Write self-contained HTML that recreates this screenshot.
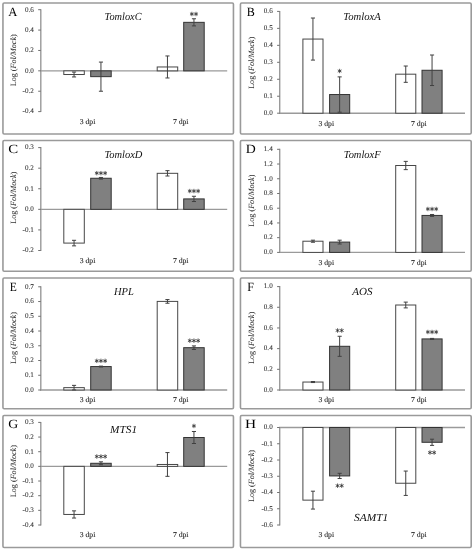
<!DOCTYPE html>
<html><head><meta charset="utf-8"><title>Figure</title>
<style>
html,body{margin:0;padding:0;background:#fff;}
body{width:474px;height:550px;overflow:hidden;}
svg{display:block;font-family:"Liberation Serif", serif;will-change:transform;text-rendering:geometricPrecision;filter:blur(0.25px);}
</style></head>
<body>
<svg width="474" height="550" viewBox="0 0 474 550">
<rect width="474" height="550" fill="#fff"/>
<rect x="2.95" y="2.95" width="230.5" height="131" rx="1.2" fill="none" stroke="#9a9a9a" stroke-width="1.6"/>
<text transform="translate(12.9 16) scale(1.0 1)" font-size="12.6" fill="#000" text-anchor="middle">A</text>
<line x1="40.8" y1="9.2" x2="40.8" y2="112.1" stroke="#9a9a9a" stroke-width="1.4"/>
<line x1="40.1" y1="70.84" x2="227.2" y2="70.84" stroke="#9a9a9a" stroke-width="1.4"/>
<rect x="63.8" y="70.84" width="20.5" height="3.67" fill="#ffffff" stroke="#474747" stroke-width="1.0"/>
<rect x="90.7" y="70.84" width="20.5" height="5.81" fill="#808080" stroke="#333333" stroke-width="1.0"/>
<rect x="157.2" y="66.97" width="20.5" height="3.87" fill="#ffffff" stroke="#474747" stroke-width="1.0"/>
<rect x="183.7" y="22.34" width="20.5" height="48.5" fill="#808080" stroke="#333333" stroke-width="1.0"/>
<line x1="38.2" y1="9.7" x2="40.8" y2="9.7" stroke="#707070" stroke-width="1"/>
<text x="33.8" y="11.5" font-size="7.1" fill="#333333" stroke="#333333" stroke-width="0.08" text-anchor="end">0.6</text>
<line x1="38.2" y1="30.08" x2="40.8" y2="30.08" stroke="#707070" stroke-width="1"/>
<text x="33.8" y="31.88" font-size="7.1" fill="#333333" stroke="#333333" stroke-width="0.08" text-anchor="end">0.4</text>
<line x1="38.2" y1="50.46" x2="40.8" y2="50.46" stroke="#707070" stroke-width="1"/>
<text x="33.8" y="52.26" font-size="7.1" fill="#333333" stroke="#333333" stroke-width="0.08" text-anchor="end">0.2</text>
<line x1="38.2" y1="70.84" x2="40.8" y2="70.84" stroke="#707070" stroke-width="1"/>
<text x="33.8" y="72.64" font-size="7.1" fill="#333333" stroke="#333333" stroke-width="0.08" text-anchor="end">0.0</text>
<line x1="38.2" y1="91.22" x2="40.8" y2="91.22" stroke="#707070" stroke-width="1"/>
<text x="33.8" y="93.02" font-size="7.1" fill="#333333" stroke="#333333" stroke-width="0.08" text-anchor="end">-0.2</text>
<line x1="38.2" y1="111.6" x2="40.8" y2="111.6" stroke="#707070" stroke-width="1"/>
<text x="33.8" y="113.4" font-size="7.1" fill="#333333" stroke="#333333" stroke-width="0.08" text-anchor="end">-0.4</text>
<path d="M74.05 72.06V76.95M72 72.06h4.1M72 76.95h4.1" stroke="#404040" stroke-width="1.0" fill="none"/>
<path d="M100.95 62.08V91.22M98.9 62.08h4.1M98.9 91.22h4.1" stroke="#404040" stroke-width="1.0" fill="none"/>
<path d="M167.45 55.96V77.97M165.4 55.96h4.1M165.4 77.97h4.1" stroke="#404040" stroke-width="1.0" fill="none"/>
<path d="M193.95 18.77V25.9M191.9 18.77h4.1M191.9 25.9h4.1" stroke="#404040" stroke-width="1.0" fill="none"/>
<path d="M191.88 12.20L191.88 15.80M190.32 13.10L193.43 14.90M190.32 14.90L193.43 13.10" stroke="#2e2e2e" stroke-width="0.8" stroke-linecap="round" fill="none"/>
<path d="M196.02 12.20L196.02 15.80M194.47 13.10L197.58 14.90M194.47 14.90L197.58 13.10" stroke="#2e2e2e" stroke-width="0.8" stroke-linecap="round" fill="none"/>
<text x="87.5" y="123.9" font-size="7.5" fill="#333333" stroke="#1a1a1a" stroke-width="0.12" text-anchor="middle" textLength="15.6" lengthAdjust="spacingAndGlyphs">3 dpi</text>
<text x="180.7" y="123.9" font-size="7.5" fill="#333333" stroke="#1a1a1a" stroke-width="0.12" text-anchor="middle" textLength="15.6" lengthAdjust="spacingAndGlyphs">7 dpi</text>
<text transform="translate(15.6 60.25) rotate(-90)" font-size="8" fill="#333333" stroke="#1a1a1a" stroke-width="0.04" text-anchor="middle" textLength="52" lengthAdjust="spacingAndGlyphs">Log (<tspan font-style="italic">Fol/Mock</tspan>)</text>
<text x="123.1" y="20.3" font-size="10.8" font-style="italic" fill="#111" text-anchor="middle" textLength="37.03" lengthAdjust="spacingAndGlyphs">TomloxC</text>
<rect x="240.45" y="2.95" width="230.75" height="131" rx="1.2" fill="none" stroke="#9a9a9a" stroke-width="1.6"/>
<text transform="translate(250.75 16) scale(0.96 1)" font-size="12.6" fill="#000" text-anchor="middle">B</text>
<line x1="279.7" y1="10.9" x2="279.7" y2="113.7" stroke="#9a9a9a" stroke-width="1.4"/>
<line x1="279" y1="113.2" x2="465" y2="113.2" stroke="#9a9a9a" stroke-width="1.4"/>
<rect x="302.9" y="39.06" width="20.1" height="74.14" fill="#ffffff" stroke="#474747" stroke-width="1.0"/>
<rect x="329.6" y="94.54" width="20.1" height="18.66" fill="#808080" stroke="#333333" stroke-width="1.0"/>
<rect x="395.7" y="74.18" width="20.1" height="39.02" fill="#ffffff" stroke="#474747" stroke-width="1.0"/>
<rect x="422" y="70.27" width="20.1" height="42.93" fill="#808080" stroke="#333333" stroke-width="1.0"/>
<line x1="277.1" y1="11.4" x2="279.7" y2="11.4" stroke="#707070" stroke-width="1"/>
<text x="272.7" y="13.2" font-size="7.1" fill="#333333" stroke="#333333" stroke-width="0.08" text-anchor="end">0.6</text>
<line x1="277.1" y1="28.37" x2="279.7" y2="28.37" stroke="#707070" stroke-width="1"/>
<text x="272.7" y="30.17" font-size="7.1" fill="#333333" stroke="#333333" stroke-width="0.08" text-anchor="end">0.5</text>
<line x1="277.1" y1="45.33" x2="279.7" y2="45.33" stroke="#707070" stroke-width="1"/>
<text x="272.7" y="47.13" font-size="7.1" fill="#333333" stroke="#333333" stroke-width="0.08" text-anchor="end">0.4</text>
<line x1="277.1" y1="62.3" x2="279.7" y2="62.3" stroke="#707070" stroke-width="1"/>
<text x="272.7" y="64.1" font-size="7.1" fill="#333333" stroke="#333333" stroke-width="0.08" text-anchor="end">0.3</text>
<line x1="277.1" y1="79.27" x2="279.7" y2="79.27" stroke="#707070" stroke-width="1"/>
<text x="272.7" y="81.07" font-size="7.1" fill="#333333" stroke="#333333" stroke-width="0.08" text-anchor="end">0.2</text>
<line x1="277.1" y1="96.23" x2="279.7" y2="96.23" stroke="#707070" stroke-width="1"/>
<text x="272.7" y="98.03" font-size="7.1" fill="#333333" stroke="#333333" stroke-width="0.08" text-anchor="end">0.1</text>
<line x1="277.1" y1="113.2" x2="279.7" y2="113.2" stroke="#707070" stroke-width="1"/>
<text x="272.7" y="115" font-size="7.1" fill="#333333" stroke="#333333" stroke-width="0.08" text-anchor="end">0.0</text>
<path d="M312.95 18.02V60.09M310.9 18.02h4.1M310.9 60.09h4.1" stroke="#404040" stroke-width="1.0" fill="none"/>
<path d="M339.65 76.89V112.18M337.6 76.89h4.1M337.6 112.18h4.1" stroke="#404040" stroke-width="1.0" fill="none"/>
<path d="M405.75 66.03V82.32M403.7 66.03h4.1M403.7 82.32h4.1" stroke="#404040" stroke-width="1.0" fill="none"/>
<path d="M432.05 55V85.54M430 55h4.1M430 85.54h4.1" stroke="#404040" stroke-width="1.0" fill="none"/>
<path d="M339.65 69.20L339.65 72.80M338.09 70.10L341.21 71.90M338.09 71.90L341.21 70.10" stroke="#2e2e2e" stroke-width="0.8" stroke-linecap="round" fill="none"/>
<text x="326.3" y="125.5" font-size="7.5" fill="#333333" stroke="#1a1a1a" stroke-width="0.12" text-anchor="middle" textLength="15.6" lengthAdjust="spacingAndGlyphs">3 dpi</text>
<text x="418.9" y="125.5" font-size="7.5" fill="#333333" stroke="#1a1a1a" stroke-width="0.12" text-anchor="middle" textLength="15.6" lengthAdjust="spacingAndGlyphs">7 dpi</text>
<text transform="translate(254 62.85) rotate(-90)" font-size="8" fill="#333333" stroke="#1a1a1a" stroke-width="0.04" text-anchor="middle" textLength="52" lengthAdjust="spacingAndGlyphs">Log (<tspan font-style="italic">Fol/Mock</tspan>)</text>
<text x="362.1" y="20.3" font-size="10.8" font-style="italic" fill="#111" text-anchor="middle" textLength="37.5" lengthAdjust="spacingAndGlyphs">TomloxA</text>
<rect x="2.95" y="140.45" width="230.5" height="130.75" rx="1.2" fill="none" stroke="#9a9a9a" stroke-width="1.6"/>
<text transform="translate(13.3 153.2) scale(1.18 1)" font-size="12.6" fill="#000" text-anchor="middle">C</text>
<line x1="40.8" y1="147.1" x2="40.8" y2="251" stroke="#9a9a9a" stroke-width="1.4"/>
<line x1="40.1" y1="209.34" x2="227.2" y2="209.34" stroke="#9a9a9a" stroke-width="1.4"/>
<rect x="63.8" y="209.34" width="20.5" height="33.75" fill="#ffffff" stroke="#474747" stroke-width="1.0"/>
<rect x="90.7" y="178.26" width="20.5" height="31.08" fill="#808080" stroke="#333333" stroke-width="1.0"/>
<rect x="157.2" y="173.32" width="20.5" height="36.02" fill="#ffffff" stroke="#474747" stroke-width="1.0"/>
<rect x="183.7" y="198.91" width="20.5" height="10.43" fill="#808080" stroke="#333333" stroke-width="1.0"/>
<line x1="38.2" y1="147.6" x2="40.8" y2="147.6" stroke="#707070" stroke-width="1"/>
<text x="33.8" y="149.4" font-size="7.1" fill="#333333" stroke="#333333" stroke-width="0.08" text-anchor="end">0.3</text>
<line x1="38.2" y1="168.18" x2="40.8" y2="168.18" stroke="#707070" stroke-width="1"/>
<text x="33.8" y="169.98" font-size="7.1" fill="#333333" stroke="#333333" stroke-width="0.08" text-anchor="end">0.2</text>
<line x1="38.2" y1="188.76" x2="40.8" y2="188.76" stroke="#707070" stroke-width="1"/>
<text x="33.8" y="190.56" font-size="7.1" fill="#333333" stroke="#333333" stroke-width="0.08" text-anchor="end">0.1</text>
<line x1="38.2" y1="209.34" x2="40.8" y2="209.34" stroke="#707070" stroke-width="1"/>
<text x="33.8" y="211.14" font-size="7.1" fill="#333333" stroke="#333333" stroke-width="0.08" text-anchor="end">0.0</text>
<line x1="38.2" y1="229.92" x2="40.8" y2="229.92" stroke="#707070" stroke-width="1"/>
<text x="33.8" y="231.72" font-size="7.1" fill="#333333" stroke="#333333" stroke-width="0.08" text-anchor="end">-0.1</text>
<line x1="38.2" y1="250.5" x2="40.8" y2="250.5" stroke="#707070" stroke-width="1"/>
<text x="33.8" y="252.3" font-size="7.1" fill="#333333" stroke="#333333" stroke-width="0.08" text-anchor="end">-0.2</text>
<path d="M74.05 240.31V245.87M72 240.31h4.1M72 245.87h4.1" stroke="#404040" stroke-width="1.0" fill="none"/>
<path d="M100.95 177.44V179.09M98.9 177.44h4.1M98.9 179.09h4.1" stroke="#404040" stroke-width="1.0" fill="none"/>
<path d="M167.45 170.65V176M165.4 170.65h4.1M165.4 176h4.1" stroke="#404040" stroke-width="1.0" fill="none"/>
<path d="M193.95 196.27V201.54M191.9 196.27h4.1M191.9 201.54h4.1" stroke="#404040" stroke-width="1.0" fill="none"/>
<path d="M96.80 171.35L96.80 174.95M95.24 172.25L98.36 174.05M95.24 174.05L98.36 172.25" stroke="#2e2e2e" stroke-width="0.8" stroke-linecap="round" fill="none"/>
<path d="M100.95 171.35L100.95 174.95M99.39 172.25L102.51 174.05M99.39 174.05L102.51 172.25" stroke="#2e2e2e" stroke-width="0.8" stroke-linecap="round" fill="none"/>
<path d="M105.10 171.35L105.10 174.95M103.54 172.25L106.66 174.05M103.54 174.05L106.66 172.25" stroke="#2e2e2e" stroke-width="0.8" stroke-linecap="round" fill="none"/>
<path d="M189.80 189.25L189.80 192.85M188.24 190.15L191.36 191.95M188.24 191.95L191.36 190.15" stroke="#2e2e2e" stroke-width="0.8" stroke-linecap="round" fill="none"/>
<path d="M193.95 189.25L193.95 192.85M192.39 190.15L195.51 191.95M192.39 191.95L195.51 190.15" stroke="#2e2e2e" stroke-width="0.8" stroke-linecap="round" fill="none"/>
<path d="M198.10 189.25L198.10 192.85M196.54 190.15L199.66 191.95M196.54 191.95L199.66 190.15" stroke="#2e2e2e" stroke-width="0.8" stroke-linecap="round" fill="none"/>
<text x="87.5" y="262.8" font-size="7.5" fill="#333333" stroke="#1a1a1a" stroke-width="0.12" text-anchor="middle" textLength="15.6" lengthAdjust="spacingAndGlyphs">3 dpi</text>
<text x="180.7" y="262.8" font-size="7.5" fill="#333333" stroke="#1a1a1a" stroke-width="0.12" text-anchor="middle" textLength="15.6" lengthAdjust="spacingAndGlyphs">7 dpi</text>
<text transform="translate(15.6 197.75) rotate(-90)" font-size="8" fill="#333333" stroke="#1a1a1a" stroke-width="0.04" text-anchor="middle" textLength="52" lengthAdjust="spacingAndGlyphs">Log (<tspan font-style="italic">Fol/Mock</tspan>)</text>
<text x="123.4" y="157.7" font-size="10.8" font-style="italic" fill="#111" text-anchor="middle" textLength="38.01" lengthAdjust="spacingAndGlyphs">TomloxD</text>
<rect x="240.45" y="140.45" width="230.75" height="130.75" rx="1.2" fill="none" stroke="#9a9a9a" stroke-width="1.6"/>
<text transform="translate(250.75 153.2) scale(1.1 1)" font-size="12.6" fill="#000" text-anchor="middle">D</text>
<line x1="279.7" y1="148.8" x2="279.7" y2="252.9" stroke="#9a9a9a" stroke-width="1.4"/>
<line x1="279" y1="252.4" x2="465" y2="252.4" stroke="#9a9a9a" stroke-width="1.4"/>
<rect x="302.9" y="241.21" width="20.1" height="11.19" fill="#ffffff" stroke="#474747" stroke-width="1.0"/>
<rect x="329.6" y="242.09" width="20.1" height="10.31" fill="#808080" stroke="#333333" stroke-width="1.0"/>
<rect x="395.7" y="165.5" width="20.1" height="86.9" fill="#ffffff" stroke="#474747" stroke-width="1.0"/>
<rect x="422" y="215.43" width="20.1" height="36.97" fill="#808080" stroke="#333333" stroke-width="1.0"/>
<line x1="277.1" y1="149.3" x2="279.7" y2="149.3" stroke="#707070" stroke-width="1"/>
<text x="272.7" y="151.1" font-size="7.1" fill="#333333" stroke="#333333" stroke-width="0.08" text-anchor="end">1.4</text>
<line x1="277.1" y1="164.03" x2="279.7" y2="164.03" stroke="#707070" stroke-width="1"/>
<text x="272.7" y="165.83" font-size="7.1" fill="#333333" stroke="#333333" stroke-width="0.08" text-anchor="end">1.2</text>
<line x1="277.1" y1="178.76" x2="279.7" y2="178.76" stroke="#707070" stroke-width="1"/>
<text x="272.7" y="180.56" font-size="7.1" fill="#333333" stroke="#333333" stroke-width="0.08" text-anchor="end">1.0</text>
<line x1="277.1" y1="193.49" x2="279.7" y2="193.49" stroke="#707070" stroke-width="1"/>
<text x="272.7" y="195.29" font-size="7.1" fill="#333333" stroke="#333333" stroke-width="0.08" text-anchor="end">0.8</text>
<line x1="277.1" y1="208.21" x2="279.7" y2="208.21" stroke="#707070" stroke-width="1"/>
<text x="272.7" y="210.01" font-size="7.1" fill="#333333" stroke="#333333" stroke-width="0.08" text-anchor="end">0.6</text>
<line x1="277.1" y1="222.94" x2="279.7" y2="222.94" stroke="#707070" stroke-width="1"/>
<text x="272.7" y="224.74" font-size="7.1" fill="#333333" stroke="#333333" stroke-width="0.08" text-anchor="end">0.4</text>
<line x1="277.1" y1="237.67" x2="279.7" y2="237.67" stroke="#707070" stroke-width="1"/>
<text x="272.7" y="239.47" font-size="7.1" fill="#333333" stroke="#333333" stroke-width="0.08" text-anchor="end">0.2</text>
<line x1="277.1" y1="252.4" x2="279.7" y2="252.4" stroke="#707070" stroke-width="1"/>
<text x="272.7" y="254.2" font-size="7.1" fill="#333333" stroke="#333333" stroke-width="0.08" text-anchor="end">0.0</text>
<path d="M312.95 240.18V242.24M310.9 240.18h4.1M310.9 242.24h4.1" stroke="#404040" stroke-width="1.0" fill="none"/>
<path d="M339.65 240.18V244M337.6 240.18h4.1M337.6 244h4.1" stroke="#404040" stroke-width="1.0" fill="none"/>
<path d="M405.75 161.38V169.63M403.7 161.38h4.1M403.7 169.63h4.1" stroke="#404040" stroke-width="1.0" fill="none"/>
<path d="M432.05 214.47V216.39M430 214.47h4.1M430 216.39h4.1" stroke="#404040" stroke-width="1.0" fill="none"/>
<path d="M427.90 207.20L427.90 210.80M426.34 208.10L429.46 209.90M426.34 209.90L429.46 208.10" stroke="#2e2e2e" stroke-width="0.8" stroke-linecap="round" fill="none"/>
<path d="M432.05 207.20L432.05 210.80M430.49 208.10L433.61 209.90M430.49 209.90L433.61 208.10" stroke="#2e2e2e" stroke-width="0.8" stroke-linecap="round" fill="none"/>
<path d="M436.20 207.20L436.20 210.80M434.64 208.10L437.76 209.90M434.64 209.90L437.76 208.10" stroke="#2e2e2e" stroke-width="0.8" stroke-linecap="round" fill="none"/>
<text x="326.3" y="264.7" font-size="7.5" fill="#333333" stroke="#1a1a1a" stroke-width="0.12" text-anchor="middle" textLength="15.6" lengthAdjust="spacingAndGlyphs">3 dpi</text>
<text x="418.9" y="264.7" font-size="7.5" fill="#333333" stroke="#1a1a1a" stroke-width="0.12" text-anchor="middle" textLength="15.6" lengthAdjust="spacingAndGlyphs">7 dpi</text>
<text transform="translate(254 200.65) rotate(-90)" font-size="8" fill="#333333" stroke="#1a1a1a" stroke-width="0.04" text-anchor="middle" textLength="52" lengthAdjust="spacingAndGlyphs">Log (<tspan font-style="italic">Fol/Mock</tspan>)</text>
<text x="362.2" y="157.7" font-size="10.8" font-style="italic" fill="#111" text-anchor="middle" textLength="36.86" lengthAdjust="spacingAndGlyphs">TomloxF</text>
<rect x="2.95" y="278" width="230.5" height="130.75" rx="1.2" fill="none" stroke="#9a9a9a" stroke-width="1.6"/>
<text transform="translate(13.3 290.8) scale(0.92 1)" font-size="12.6" fill="#000" text-anchor="middle">E</text>
<line x1="40.8" y1="286.3" x2="40.8" y2="390.5" stroke="#9a9a9a" stroke-width="1.4"/>
<line x1="40.1" y1="390" x2="227.2" y2="390" stroke="#9a9a9a" stroke-width="1.4"/>
<rect x="63.8" y="387.64" width="20.5" height="2.36" fill="#ffffff" stroke="#474747" stroke-width="1.0"/>
<rect x="90.7" y="366.56" width="20.5" height="23.44" fill="#808080" stroke="#333333" stroke-width="1.0"/>
<rect x="157.2" y="301.4" width="20.5" height="88.6" fill="#ffffff" stroke="#474747" stroke-width="1.0"/>
<rect x="183.7" y="347.69" width="20.5" height="42.31" fill="#808080" stroke="#333333" stroke-width="1.0"/>
<line x1="38.2" y1="286.8" x2="40.8" y2="286.8" stroke="#707070" stroke-width="1"/>
<text x="33.8" y="288.6" font-size="7.1" fill="#333333" stroke="#333333" stroke-width="0.08" text-anchor="end">0.7</text>
<line x1="38.2" y1="301.54" x2="40.8" y2="301.54" stroke="#707070" stroke-width="1"/>
<text x="33.8" y="303.34" font-size="7.1" fill="#333333" stroke="#333333" stroke-width="0.08" text-anchor="end">0.6</text>
<line x1="38.2" y1="316.29" x2="40.8" y2="316.29" stroke="#707070" stroke-width="1"/>
<text x="33.8" y="318.09" font-size="7.1" fill="#333333" stroke="#333333" stroke-width="0.08" text-anchor="end">0.5</text>
<line x1="38.2" y1="331.03" x2="40.8" y2="331.03" stroke="#707070" stroke-width="1"/>
<text x="33.8" y="332.83" font-size="7.1" fill="#333333" stroke="#333333" stroke-width="0.08" text-anchor="end">0.4</text>
<line x1="38.2" y1="345.77" x2="40.8" y2="345.77" stroke="#707070" stroke-width="1"/>
<text x="33.8" y="347.57" font-size="7.1" fill="#333333" stroke="#333333" stroke-width="0.08" text-anchor="end">0.3</text>
<line x1="38.2" y1="360.51" x2="40.8" y2="360.51" stroke="#707070" stroke-width="1"/>
<text x="33.8" y="362.31" font-size="7.1" fill="#333333" stroke="#333333" stroke-width="0.08" text-anchor="end">0.2</text>
<line x1="38.2" y1="375.26" x2="40.8" y2="375.26" stroke="#707070" stroke-width="1"/>
<text x="33.8" y="377.06" font-size="7.1" fill="#333333" stroke="#333333" stroke-width="0.08" text-anchor="end">0.1</text>
<line x1="38.2" y1="390" x2="40.8" y2="390" stroke="#707070" stroke-width="1"/>
<text x="33.8" y="391.8" font-size="7.1" fill="#333333" stroke="#333333" stroke-width="0.08" text-anchor="end">0.0</text>
<path d="M74.05 385.36V389.93M72 385.36h4.1M72 389.93h4.1" stroke="#404040" stroke-width="1.0" fill="none"/>
<path d="M100.95 366.12V367M98.9 366.12h4.1M98.9 367h4.1" stroke="#404040" stroke-width="1.0" fill="none"/>
<path d="M167.45 299.55V303.24M165.4 299.55h4.1M165.4 303.24h4.1" stroke="#404040" stroke-width="1.0" fill="none"/>
<path d="M193.95 345.92V349.46M191.9 345.92h4.1M191.9 349.46h4.1" stroke="#404040" stroke-width="1.0" fill="none"/>
<path d="M96.80 359.05L96.80 362.65M95.24 359.95L98.36 361.75M95.24 361.75L98.36 359.95" stroke="#2e2e2e" stroke-width="0.8" stroke-linecap="round" fill="none"/>
<path d="M100.95 359.05L100.95 362.65M99.39 359.95L102.51 361.75M99.39 361.75L102.51 359.95" stroke="#2e2e2e" stroke-width="0.8" stroke-linecap="round" fill="none"/>
<path d="M105.10 359.05L105.10 362.65M103.54 359.95L106.66 361.75M103.54 361.75L106.66 359.95" stroke="#2e2e2e" stroke-width="0.8" stroke-linecap="round" fill="none"/>
<path d="M189.80 338.85L189.80 342.45M188.24 339.75L191.36 341.55M188.24 341.55L191.36 339.75" stroke="#2e2e2e" stroke-width="0.8" stroke-linecap="round" fill="none"/>
<path d="M193.95 338.85L193.95 342.45M192.39 339.75L195.51 341.55M192.39 341.55L195.51 339.75" stroke="#2e2e2e" stroke-width="0.8" stroke-linecap="round" fill="none"/>
<path d="M198.10 338.85L198.10 342.45M196.54 339.75L199.66 341.55M196.54 341.55L199.66 339.75" stroke="#2e2e2e" stroke-width="0.8" stroke-linecap="round" fill="none"/>
<text x="87.5" y="402.3" font-size="7.5" fill="#333333" stroke="#1a1a1a" stroke-width="0.12" text-anchor="middle" textLength="15.6" lengthAdjust="spacingAndGlyphs">3 dpi</text>
<text x="180.7" y="402.3" font-size="7.5" fill="#333333" stroke="#1a1a1a" stroke-width="0.12" text-anchor="middle" textLength="15.6" lengthAdjust="spacingAndGlyphs">7 dpi</text>
<text transform="translate(15.6 338.1) rotate(-90)" font-size="8" fill="#333333" stroke="#1a1a1a" stroke-width="0.04" text-anchor="middle" textLength="52" lengthAdjust="spacingAndGlyphs">Log (<tspan font-style="italic">Fol/Mock</tspan>)</text>
<text x="123.9" y="294.9" font-size="10.8" font-style="italic" fill="#111" text-anchor="middle" textLength="19.8" lengthAdjust="spacingAndGlyphs">HPL</text>
<rect x="240.45" y="278" width="230.75" height="130.75" rx="1.2" fill="none" stroke="#9a9a9a" stroke-width="1.6"/>
<text transform="translate(250.45 290.8) scale(0.95 1)" font-size="12.6" fill="#000" text-anchor="middle">F</text>
<line x1="279.7" y1="286.1" x2="279.7" y2="390.5" stroke="#9a9a9a" stroke-width="1.4"/>
<line x1="279" y1="390" x2="465" y2="390" stroke="#9a9a9a" stroke-width="1.4"/>
<rect x="302.9" y="382.04" width="20.1" height="7.96" fill="#ffffff" stroke="#474747" stroke-width="1.0"/>
<rect x="329.6" y="346.3" width="20.1" height="43.7" fill="#808080" stroke="#333333" stroke-width="1.0"/>
<rect x="395.7" y="305.01" width="20.1" height="84.99" fill="#ffffff" stroke="#474747" stroke-width="1.0"/>
<rect x="422" y="338.92" width="20.1" height="51.08" fill="#808080" stroke="#333333" stroke-width="1.0"/>
<line x1="277.1" y1="286.6" x2="279.7" y2="286.6" stroke="#707070" stroke-width="1"/>
<text x="272.7" y="288.4" font-size="7.1" fill="#333333" stroke="#333333" stroke-width="0.08" text-anchor="end">1.0</text>
<line x1="277.1" y1="307.28" x2="279.7" y2="307.28" stroke="#707070" stroke-width="1"/>
<text x="272.7" y="309.08" font-size="7.1" fill="#333333" stroke="#333333" stroke-width="0.08" text-anchor="end">0.8</text>
<line x1="277.1" y1="327.96" x2="279.7" y2="327.96" stroke="#707070" stroke-width="1"/>
<text x="272.7" y="329.76" font-size="7.1" fill="#333333" stroke="#333333" stroke-width="0.08" text-anchor="end">0.6</text>
<line x1="277.1" y1="348.64" x2="279.7" y2="348.64" stroke="#707070" stroke-width="1"/>
<text x="272.7" y="350.44" font-size="7.1" fill="#333333" stroke="#333333" stroke-width="0.08" text-anchor="end">0.4</text>
<line x1="277.1" y1="369.32" x2="279.7" y2="369.32" stroke="#707070" stroke-width="1"/>
<text x="272.7" y="371.12" font-size="7.1" fill="#333333" stroke="#333333" stroke-width="0.08" text-anchor="end">0.2</text>
<line x1="277.1" y1="390" x2="279.7" y2="390" stroke="#707070" stroke-width="1"/>
<text x="272.7" y="391.8" font-size="7.1" fill="#333333" stroke="#333333" stroke-width="0.08" text-anchor="end">0.0</text>
<path d="M312.95 381.52V382.56M310.9 381.52h4.1M310.9 382.56h4.1" stroke="#404040" stroke-width="1.0" fill="none"/>
<path d="M339.65 336.27V356.33M337.6 336.27h4.1M337.6 356.33h4.1" stroke="#404040" stroke-width="1.0" fill="none"/>
<path d="M405.75 302.11V307.9M403.7 302.11h4.1M403.7 307.9h4.1" stroke="#404040" stroke-width="1.0" fill="none"/>
<path d="M432.05 338.4V339.44M430 338.4h4.1M430 339.44h4.1" stroke="#404040" stroke-width="1.0" fill="none"/>
<path d="M337.57 328.70L337.57 332.30M336.02 329.60L339.13 331.40M336.02 331.40L339.13 329.60" stroke="#2e2e2e" stroke-width="0.8" stroke-linecap="round" fill="none"/>
<path d="M341.72 328.70L341.72 332.30M340.17 329.60L343.28 331.40M340.17 331.40L343.28 329.60" stroke="#2e2e2e" stroke-width="0.8" stroke-linecap="round" fill="none"/>
<path d="M427.90 330.20L427.90 333.80M426.34 331.10L429.46 332.90M426.34 332.90L429.46 331.10" stroke="#2e2e2e" stroke-width="0.8" stroke-linecap="round" fill="none"/>
<path d="M432.05 330.20L432.05 333.80M430.49 331.10L433.61 332.90M430.49 332.90L433.61 331.10" stroke="#2e2e2e" stroke-width="0.8" stroke-linecap="round" fill="none"/>
<path d="M436.20 330.20L436.20 333.80M434.64 331.10L437.76 332.90M434.64 332.90L437.76 331.10" stroke="#2e2e2e" stroke-width="0.8" stroke-linecap="round" fill="none"/>
<text x="326.3" y="402.3" font-size="7.5" fill="#333333" stroke="#1a1a1a" stroke-width="0.12" text-anchor="middle" textLength="15.6" lengthAdjust="spacingAndGlyphs">3 dpi</text>
<text x="418.9" y="402.3" font-size="7.5" fill="#333333" stroke="#1a1a1a" stroke-width="0.12" text-anchor="middle" textLength="15.6" lengthAdjust="spacingAndGlyphs">7 dpi</text>
<text transform="translate(254 337.9) rotate(-90)" font-size="8" fill="#333333" stroke="#1a1a1a" stroke-width="0.04" text-anchor="middle" textLength="52" lengthAdjust="spacingAndGlyphs">Log (<tspan font-style="italic">Fol/Mock</tspan>)</text>
<text x="362.3" y="294.9" font-size="10.8" font-style="italic" fill="#111" text-anchor="middle" textLength="20.21" lengthAdjust="spacingAndGlyphs">AOS</text>
<rect x="2.95" y="415.5" width="230.5" height="131.95" rx="1.2" fill="none" stroke="#9a9a9a" stroke-width="1.6"/>
<text transform="translate(13.3 428.3) scale(1.1 1)" font-size="12.6" fill="#000" text-anchor="middle">G</text>
<line x1="40.8" y1="421.9" x2="40.8" y2="525.5" stroke="#9a9a9a" stroke-width="1.4"/>
<line x1="40.1" y1="466.37" x2="227.2" y2="466.37" stroke="#9a9a9a" stroke-width="1.4"/>
<rect x="63.8" y="466.37" width="20.5" height="48.08" fill="#ffffff" stroke="#474747" stroke-width="1.0"/>
<rect x="90.7" y="463.29" width="20.5" height="3.08" fill="#808080" stroke="#333333" stroke-width="1.0"/>
<rect x="157.2" y="464.47" width="20.5" height="1.91" fill="#ffffff" stroke="#474747" stroke-width="1.0"/>
<rect x="183.7" y="437.5" width="20.5" height="28.87" fill="#808080" stroke="#333333" stroke-width="1.0"/>
<line x1="38.2" y1="422.4" x2="40.8" y2="422.4" stroke="#707070" stroke-width="1"/>
<text x="33.8" y="424.2" font-size="7.1" fill="#333333" stroke="#333333" stroke-width="0.08" text-anchor="end">0.3</text>
<line x1="38.2" y1="437.06" x2="40.8" y2="437.06" stroke="#707070" stroke-width="1"/>
<text x="33.8" y="438.86" font-size="7.1" fill="#333333" stroke="#333333" stroke-width="0.08" text-anchor="end">0.2</text>
<line x1="38.2" y1="451.71" x2="40.8" y2="451.71" stroke="#707070" stroke-width="1"/>
<text x="33.8" y="453.51" font-size="7.1" fill="#333333" stroke="#333333" stroke-width="0.08" text-anchor="end">0.1</text>
<line x1="38.2" y1="466.37" x2="40.8" y2="466.37" stroke="#707070" stroke-width="1"/>
<text x="33.8" y="468.17" font-size="7.1" fill="#333333" stroke="#333333" stroke-width="0.08" text-anchor="end">0.0</text>
<line x1="38.2" y1="481.03" x2="40.8" y2="481.03" stroke="#707070" stroke-width="1"/>
<text x="33.8" y="482.83" font-size="7.1" fill="#333333" stroke="#333333" stroke-width="0.08" text-anchor="end">-0.1</text>
<line x1="38.2" y1="495.69" x2="40.8" y2="495.69" stroke="#707070" stroke-width="1"/>
<text x="33.8" y="497.49" font-size="7.1" fill="#333333" stroke="#333333" stroke-width="0.08" text-anchor="end">-0.2</text>
<line x1="38.2" y1="510.34" x2="40.8" y2="510.34" stroke="#707070" stroke-width="1"/>
<text x="33.8" y="512.14" font-size="7.1" fill="#333333" stroke="#333333" stroke-width="0.08" text-anchor="end">-0.3</text>
<line x1="38.2" y1="525" x2="40.8" y2="525" stroke="#707070" stroke-width="1"/>
<text x="33.8" y="526.8" font-size="7.1" fill="#333333" stroke="#333333" stroke-width="0.08" text-anchor="end">-0.4</text>
<path d="M74.05 510.86V518.04M72 510.86h4.1M72 518.04h4.1" stroke="#404040" stroke-width="1.0" fill="none"/>
<path d="M100.95 461.83V464.76M98.9 461.83h4.1M98.9 464.76h4.1" stroke="#404040" stroke-width="1.0" fill="none"/>
<path d="M167.45 452.59V476.34M165.4 452.59h4.1M165.4 476.34h4.1" stroke="#404040" stroke-width="1.0" fill="none"/>
<path d="M193.95 431.49V443.51M191.9 431.49h4.1M191.9 443.51h4.1" stroke="#404040" stroke-width="1.0" fill="none"/>
<path d="M96.80 454.70L96.80 458.30M95.24 455.60L98.36 457.40M95.24 457.40L98.36 455.60" stroke="#2e2e2e" stroke-width="0.8" stroke-linecap="round" fill="none"/>
<path d="M100.95 454.70L100.95 458.30M99.39 455.60L102.51 457.40M99.39 457.40L102.51 455.60" stroke="#2e2e2e" stroke-width="0.8" stroke-linecap="round" fill="none"/>
<path d="M105.10 454.70L105.10 458.30M103.54 455.60L106.66 457.40M103.54 457.40L106.66 455.60" stroke="#2e2e2e" stroke-width="0.8" stroke-linecap="round" fill="none"/>
<path d="M193.95 424.15L193.95 427.75M192.39 425.05L195.51 426.85M192.39 426.85L195.51 425.05" stroke="#2e2e2e" stroke-width="0.8" stroke-linecap="round" fill="none"/>
<text x="87.5" y="537.3" font-size="7.5" fill="#333333" stroke="#1a1a1a" stroke-width="0.12" text-anchor="middle" textLength="15.6" lengthAdjust="spacingAndGlyphs">3 dpi</text>
<text x="180.7" y="537.3" font-size="7.5" fill="#333333" stroke="#1a1a1a" stroke-width="0.12" text-anchor="middle" textLength="15.6" lengthAdjust="spacingAndGlyphs">7 dpi</text>
<text transform="translate(15.6 471.15) rotate(-90)" font-size="8" fill="#333333" stroke="#1a1a1a" stroke-width="0.04" text-anchor="middle" textLength="52" lengthAdjust="spacingAndGlyphs">Log (<tspan font-style="italic">Fol/Mock</tspan>)</text>
<text x="123.6" y="432.8" font-size="10.8" font-style="italic" fill="#111" text-anchor="middle" textLength="27" lengthAdjust="spacingAndGlyphs">MTS1</text>
<rect x="240.45" y="415.5" width="230.75" height="131.95" rx="1.2" fill="none" stroke="#9a9a9a" stroke-width="1.6"/>
<text transform="translate(250.65 428.3) scale(1.22 1)" font-size="12.6" fill="#000" text-anchor="middle">H</text>
<line x1="279.7" y1="427" x2="279.7" y2="525.5" stroke="#9a9a9a" stroke-width="1.4"/>
<line x1="279" y1="427.5" x2="465" y2="427.5" stroke="#9a9a9a" stroke-width="1.4"/>
<rect x="302.9" y="427.5" width="20.1" height="72.64" fill="#ffffff" stroke="#474747" stroke-width="1.0"/>
<rect x="329.6" y="427.5" width="20.1" height="48.43" fill="#808080" stroke="#333333" stroke-width="1.0"/>
<rect x="395.7" y="427.5" width="20.1" height="55.74" fill="#ffffff" stroke="#474747" stroke-width="1.0"/>
<rect x="422" y="427.5" width="20.1" height="14.79" fill="#808080" stroke="#333333" stroke-width="1.0"/>
<line x1="277.1" y1="427.5" x2="279.7" y2="427.5" stroke="#707070" stroke-width="1"/>
<text x="272.7" y="429.3" font-size="7.1" fill="#333333" stroke="#333333" stroke-width="0.08" text-anchor="end">0.0</text>
<line x1="277.1" y1="443.75" x2="279.7" y2="443.75" stroke="#707070" stroke-width="1"/>
<text x="272.7" y="445.55" font-size="7.1" fill="#333333" stroke="#333333" stroke-width="0.08" text-anchor="end">-0.1</text>
<line x1="277.1" y1="460" x2="279.7" y2="460" stroke="#707070" stroke-width="1"/>
<text x="272.7" y="461.8" font-size="7.1" fill="#333333" stroke="#333333" stroke-width="0.08" text-anchor="end">-0.2</text>
<line x1="277.1" y1="476.25" x2="279.7" y2="476.25" stroke="#707070" stroke-width="1"/>
<text x="272.7" y="478.05" font-size="7.1" fill="#333333" stroke="#333333" stroke-width="0.08" text-anchor="end">-0.3</text>
<line x1="277.1" y1="492.5" x2="279.7" y2="492.5" stroke="#707070" stroke-width="1"/>
<text x="272.7" y="494.3" font-size="7.1" fill="#333333" stroke="#333333" stroke-width="0.08" text-anchor="end">-0.4</text>
<line x1="277.1" y1="508.75" x2="279.7" y2="508.75" stroke="#707070" stroke-width="1"/>
<text x="272.7" y="510.55" font-size="7.1" fill="#333333" stroke="#333333" stroke-width="0.08" text-anchor="end">-0.5</text>
<line x1="277.1" y1="525" x2="279.7" y2="525" stroke="#707070" stroke-width="1"/>
<text x="272.7" y="526.8" font-size="7.1" fill="#333333" stroke="#333333" stroke-width="0.08" text-anchor="end">-0.6</text>
<path d="M312.95 491.2V509.07M310.9 491.2h4.1M310.9 509.07h4.1" stroke="#404040" stroke-width="1.0" fill="none"/>
<path d="M339.65 473.32V478.52M337.6 473.32h4.1M337.6 478.52h4.1" stroke="#404040" stroke-width="1.0" fill="none"/>
<path d="M405.75 471.05V495.43M403.7 471.05h4.1M403.7 495.43h4.1" stroke="#404040" stroke-width="1.0" fill="none"/>
<path d="M432.05 439.2V445.38M430 439.2h4.1M430 445.38h4.1" stroke="#404040" stroke-width="1.0" fill="none"/>
<path d="M337.57 483.90L337.57 487.50M336.02 484.80L339.13 486.60M336.02 486.60L339.13 484.80" stroke="#2e2e2e" stroke-width="0.8" stroke-linecap="round" fill="none"/>
<path d="M341.72 483.90L341.72 487.50M340.17 484.80L343.28 486.60M340.17 486.60L343.28 484.80" stroke="#2e2e2e" stroke-width="0.8" stroke-linecap="round" fill="none"/>
<path d="M429.98 450.75L429.98 454.35M428.42 451.65L431.53 453.45M428.42 453.45L431.53 451.65" stroke="#2e2e2e" stroke-width="0.8" stroke-linecap="round" fill="none"/>
<path d="M434.12 450.75L434.12 454.35M432.57 451.65L435.68 453.45M432.57 453.45L435.68 451.65" stroke="#2e2e2e" stroke-width="0.8" stroke-linecap="round" fill="none"/>
<text x="326.3" y="537.3" font-size="7.5" fill="#333333" stroke="#1a1a1a" stroke-width="0.12" text-anchor="middle" textLength="15.6" lengthAdjust="spacingAndGlyphs">3 dpi</text>
<text x="418.9" y="537.3" font-size="7.5" fill="#333333" stroke="#1a1a1a" stroke-width="0.12" text-anchor="middle" textLength="15.6" lengthAdjust="spacingAndGlyphs">7 dpi</text>
<text transform="translate(254 476) rotate(-90)" font-size="8" fill="#333333" stroke="#1a1a1a" stroke-width="0.04" text-anchor="middle" textLength="52" lengthAdjust="spacingAndGlyphs">Log (<tspan font-style="italic">Fol/Mock</tspan>)</text>
<text x="371.1" y="520.6" font-size="10.8" font-style="italic" fill="#111" text-anchor="middle" textLength="34.3" lengthAdjust="spacingAndGlyphs">SAMT1</text>
</svg>
</body></html>
